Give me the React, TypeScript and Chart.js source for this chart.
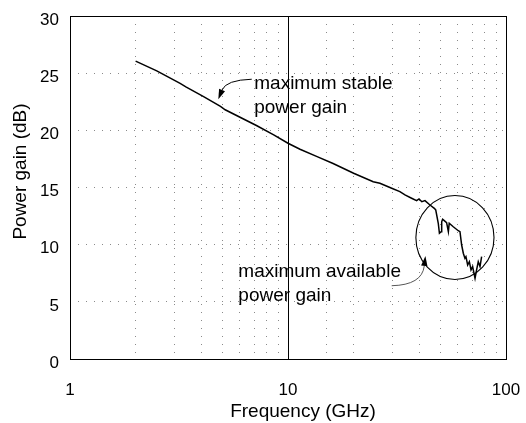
import React, { useEffect, useRef } from "react";
import { Chart, registerables } from "chart.js";

Chart.register(...registerables);

// ---- data ----
const freqGHz = [
  2.0, 2.5, 3.2, 3.4, 4.1, 4.9, 5.15, 7.2, 8.6, 10, 11.35, 13.6, 16.1, 20, 24.6, 26.4, 29.9, 32.6,
  34.4, 36.9, 38.9, 39.9, 41.1, 42.5, 44.8, 46.9, 47.6, 48.9, 49.5, 50.4, 50.7, 51.2, 52.1, 53.4,
  54.4, 54.9, 57.3, 60.4, 61.5, 62.6, 63.7, 64.8, 65.5, 66.7, 67.9, 69.1, 70.3, 72.1, 73.3, 74.6,
  76.0, 77.3,
];
const gainDB = [
  26.05, 25.2, 24.1, 23.8, 22.95, 22.1, 21.8, 20.4, 19.6, 18.87, 18.35, 17.7, 17.1, 16.25, 15.5,
  15.37, 14.93, 14.64, 14.35, 14.06, 13.85, 14.0, 13.76, 13.85, 13.47, 13.18, 13.04, 11.87, 11.0,
  11.14, 12.0, 12.22, 12.1, 11.93, 11.14, 11.87, 11.57, 11.22, 11.14, 9.97, 9.25, 8.81, 8.95, 8.22,
  8.51, 7.79, 8.08, 7.06, 7.79, 8.51, 8.08, 8.95,
];
const xMajorTicks = [1, 10, 100];
const yTickValues = [0, 5, 10, 15, 20, 25, 30];
const xTitle = "Frequency (GHz)";
const yTitle = "Power gain (dB)";
const stableLabel = ["maximum stable", "power gain"];
const availableLabel = ["maximum available", "power gain"];
// annotation anchors in data units (GHz, dB)
const stableTextAt = [7.0, 23.6];
const stableArrow = [[6.82, 24.47], [5.2, 24.4], [4.79, 22.72]];
const availableTextAt = [5.92, 7.17];
const availableArrow = [[29.9, 6.41], [41.2, 6.47], [42.7, 9.01]];
const circleBox = [38.6, 88.1, 6.95, 14.3]; // xMin, xMax, yMin, yMax
const solidLineAt = 10;

const FONT = '"Liberation Sans", Arial, Helvetica, sans-serif';

function arrow(ctx: CanvasRenderingContext2D, pts: number[][], x: any, y: any, color: string, width: number) {
  const p = pts.map(([a, b]) => [x.getPixelForValue(a), y.getPixelForValue(b)]);
  const [s, c, e] = p;
  const dx = e[0] - c[0];
  const dy = e[1] - c[1];
  const len = Math.hypot(dx, dy) || 1;
  const ux = dx / len;
  const uy = dy / len;
  const hl = 10;
  const hw = 3.2;
  const bx = e[0] - ux * hl;
  const by = e[1] - uy * hl;
  ctx.save();
  ctx.strokeStyle = color;
  ctx.lineWidth = width;
  ctx.beginPath();
  ctx.moveTo(s[0], s[1]);
  ctx.quadraticCurveTo(c[0], c[1], bx, by);
  ctx.stroke();
  ctx.fillStyle = "#000";
  ctx.beginPath();
  ctx.moveTo(e[0], e[1]);
  ctx.lineTo(bx - uy * hw, by + ux * hw);
  ctx.lineTo(bx + uy * hw, by - ux * hw);
  ctx.closePath();
  ctx.fill();
  ctx.restore();
}

const overlay = {
  id: "overlay",
  beforeDatasetsDraw(chart: any) {
    const { ctx, chartArea, scales } = chart;
    const xs = scales.x;
    ctx.save();
    ctx.strokeStyle = "#000";
    ctx.lineWidth = 1;
    const px = Math.round(xs.getPixelForValue(solidLineAt)) + 0.5;
    ctx.beginPath();
    ctx.moveTo(px, chartArea.top);
    ctx.lineTo(px, chartArea.bottom);
    ctx.stroke();
    ctx.strokeRect(
      Math.round(chartArea.left) + 0.5,
      Math.round(chartArea.top) + 0.5,
      Math.round(chartArea.width),
      Math.round(chartArea.height)
    );
    ctx.restore();
  },
  afterDraw(chart: any) {
    const { ctx, chartArea, scales } = chart;
    const xs = scales.x;
    const ys = scales.y;
    ctx.save();
    ctx.fillStyle = "#000";
    ctx.font = `19px ${FONT}`;
    // axis titles
    ctx.textAlign = "center";
    ctx.textBaseline = "middle";
    ctx.fillText(xTitle, (chartArea.left + chartArea.right) / 2 + 15, 412);
    ctx.save();
    ctx.translate(21, (chartArea.top + chartArea.bottom) / 2 - 16);
    ctx.rotate(-Math.PI / 2);
    ctx.fillText(yTitle, 0, 0);
    ctx.restore();
    // annotation texts
    ctx.textAlign = "left";
    ctx.textBaseline = "alphabetic";
    const sx = xs.getPixelForValue(stableTextAt[0]);
    const sy = ys.getPixelForValue(stableTextAt[1]);
    stableLabel.forEach((t, i) => ctx.fillText(t, sx, sy + i * 24));
    const ax = xs.getPixelForValue(availableTextAt[0]);
    const ay = ys.getPixelForValue(availableTextAt[1]);
    availableLabel.forEach((t, i) => ctx.fillText(t, ax, ay + i * 24));
    // circle
    const cx0 = xs.getPixelForValue(circleBox[0]);
    const cx1 = xs.getPixelForValue(circleBox[1]);
    const cy0 = ys.getPixelForValue(circleBox[2]);
    const cy1 = ys.getPixelForValue(circleBox[3]);
    ctx.strokeStyle = "#000";
    ctx.lineWidth = 1.1;
    ctx.beginPath();
    ctx.ellipse((cx0 + cx1) / 2, (cy0 + cy1) / 2, Math.abs(cx1 - cx0) / 2, Math.abs(cy1 - cy0) / 2, 0, 0, Math.PI * 2);
    ctx.stroke();
    ctx.restore();
    arrow(ctx, stableArrow, xs, ys, "#000", 1);
    arrow(ctx, availableArrow, xs, ys, "#444", 0.9);
  },
};

function noPadding(s: any) {
  s.paddingTop = 0;
  s.paddingBottom = 0;
  s.paddingLeft = 0;
  s.paddingRight = 0;
}

export default function App() {
  const ref = useRef<HTMLCanvasElement | null>(null);
  useEffect(() => {
    document.body.style.margin = "0";
    const canvas = ref.current;
    if (!canvas) return;
    const points = freqGHz.map((f, i) => ({ x: f, y: gainDB[i] }));
    const gridColor = (skip: number[]) => (ctx: any) =>
      ctx.tick && skip.includes(ctx.tick.value) ? "rgba(0,0,0,0)" : "#8a8a8a";
    const chart = new Chart(canvas, {
      type: "line",
      data: {
        datasets: [
          {
            data: points,
            borderColor: "#000",
            borderWidth: 1.5,
            pointRadius: 0,
            fill: false,
            tension: 0,
          },
        ],
      },
      options: {
        animation: false,
        responsive: false,
        devicePixelRatio: 1,
        layout: { padding: { top: 16, right: 20, left: 0, bottom: 0 } },
        plugins: { legend: { display: false }, tooltip: { enabled: false } },
        scales: {
          x: {
            type: "logarithmic",
            min: 1,
            max: 100,
            afterFit: (s: any) => {
              s.height = 64;
              noPadding(s);
            },
            ticks: {
              autoSkip: false,
              maxRotation: 0,
              padding: 21,
              color: "#000",
              font: { family: FONT, size: 17 },
              callback: (v: any) => (xMajorTicks.includes(Number(v)) ? String(v) : ""),
            },
            grid: { color: gridColor(xMajorTicks), lineWidth: 1, drawTicks: false },
            border: { display: false, dash: [1, 7] },
          },
          y: {
            type: "linear",
            min: 0,
            max: 30,
            afterFit: (s: any) => {
              s.width = 70;
              noPadding(s);
            },
            afterBuildTicks: (s: any) => {
              s.ticks = yTickValues.map((v) => ({ value: v }));
            },
            ticks: {
              padding: 11,
              labelOffset: 4,
              color: "#000",
              font: { family: FONT, size: 17 },
            },
            grid: { color: gridColor([0, 30]), lineWidth: 1, drawTicks: false },
            border: { display: false, dash: [1, 7] },
          },
        },
      },
      plugins: [overlay],
    });
    return () => chart.destroy();
  }, []);
  return <canvas ref={ref} width={526} height={423} style={{ display: "block" }} />;
}
